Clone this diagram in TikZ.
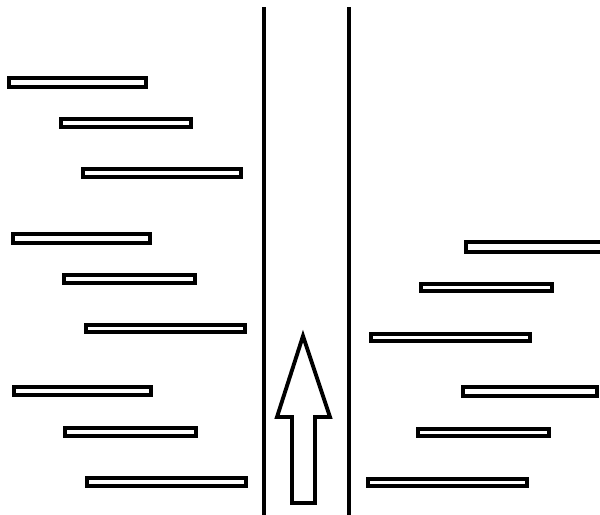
\documentclass[tikz,border=0pt]{standalone}
\begin{document}
\begin{tikzpicture}[
    x=0.02cm, y=-0.02cm,
    plank/.style={draw=black, fill=white, line width=2.2pt},
    wall/.style={draw=black, line width=2.2pt},
    flow/.style={draw=black, fill=white, line width=2.2pt, line join=miter},
]
\useasboundingbox (0,0) rectangle (600,515);
% channel walls
\draw[wall] (264,7) -- (264,515);
\draw[wall] (349,7) -- (349,515);
% left planks
\draw[plank] (9,78) rectangle (146,87);
\draw[plank] (61,119) rectangle (191,127);
\draw[plank] (83,169) rectangle (241,177);
\draw[plank] (13,234) rectangle (150,243);
\draw[plank] (64,275) rectangle (195,283);
\draw[plank] (86,325) rectangle (245,332);
\draw[plank] (14,387) rectangle (151,395);
\draw[plank] (65,428) rectangle (196,436);
\draw[plank] (87,478) rectangle (246,486);
% right planks
\draw[plank] (604,242) -- (466,242) -- (466,252) -- (604,252);
\draw[plank] (421,284) rectangle (552,291);
\draw[plank] (371,334) rectangle (530,341);
\draw[plank] (463,387) rectangle (597,396);
\draw[plank] (418,429) rectangle (549,436);
\draw[plank] (368,479) rectangle (527,486);
% direction arrow
\draw[flow] (303,336) -- (330,417) -- (315,417) -- (315,503) -- (292,503)
    -- (292,417) -- (277,417) -- cycle;
\end{tikzpicture}
\end{document}
